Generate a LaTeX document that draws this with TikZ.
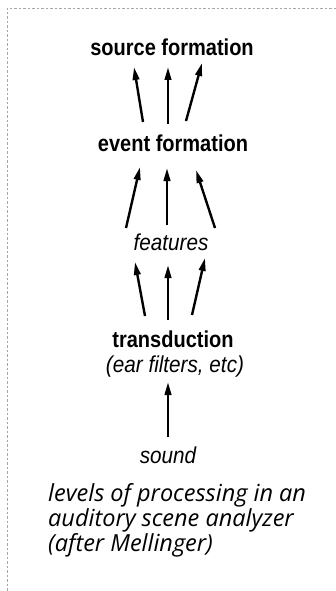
\documentclass[tikz,border=0pt]{standalone}
\usepackage{fontspec}
\usetikzlibrary{arrows.meta}
\newfontfamily\labelbold[FakeStretch=0.87]{Liberation Sans Bold}
\newfontfamily\labelit[FakeStretch=0.9]{Liberation Sans Italic}
\newfontfamily\captionit{Open Sans Italic}
\tikzset{
  lvlbold/.style={anchor=base, inner sep=0pt, font=\labelbold\fontsize{23}{26}\selectfont},
  lvlit/.style={anchor=base, inner sep=0pt, font=\labelit\fontsize{23}{26}\selectfont},
  capt/.style={anchor=base west, inner sep=0pt, align=left, font=\captionit\fontsize{23.5}{25}\selectfont},
  up/.style={line width=2.4pt, -{Triangle[length=13pt,width=6.5pt]}},
  frame/.style={gray!70, line width=0.6pt, dash pattern=on 2.5pt off 2pt}
}
\begin{document}
\begin{tikzpicture}[x=1pt,y=-1pt]
\useasboundingbox (0,0) rectangle (336,591);
% panel frame (top and left edges)
\draw[frame] (336,8) -- (7,8) -- (7,591);

% processing levels
\node[lvlbold] (src) at (172,56) {source formation};
\node[lvlbold] (ev) at (173,151) {event formation};
\node[lvlit] (feat) at (171,250) {features};
\node[lvlbold] (trans) at (173,347) {transduction};
\node[lvlit] (ear) at (175,372) {(ear filters, etc)};
\node[lvlit] (snd) at (168,463) {sound};

% event formation -> source formation
\draw[up] ([shift={(-30,-29)}]ev.base) -- ([shift={(-38,11)}]src.base);
\draw[up] ([shift={(-5,-27)}]ev.base) -- ([shift={(-4,11)}]src.base);
\draw[up] ([shift={(13,-30)}]ev.base) -- ([shift={(30,7)}]src.base);

% features -> event formation
\draw[up] ([shift={(-45,-22)}]feat.base) -- ([shift={(-33,16)}]ev.base);
\draw[up] ([shift={(-4,-25)}]feat.base) -- ([shift={(-6,17)}]ev.base);
\draw[up] ([shift={(44,-22)}]feat.base) -- ([shift={(23,19)}]ev.base);

% transduction -> features
\draw[up] ([shift={(-28,-31)}]trans.base) -- ([shift={(-36,12)}]feat.base);
\draw[up] ([shift={(-5,-27)}]trans.base) -- ([shift={(-3,15)}]feat.base);
\draw[up] ([shift={(19,-32)}]trans.base) -- ([shift={(34,8)}]feat.base);

% sound -> transduction
\draw[up] ([shift={(0,-26)}]snd.base) -- ([shift={(-7,10)}]ear.base);

% caption (anchored on the baseline of its last line)
\node[capt] (cap) at (48,551) {levels of processing in an\\auditory scene analyzer\\(after Mellinger)};
\end{tikzpicture}
\end{document}
